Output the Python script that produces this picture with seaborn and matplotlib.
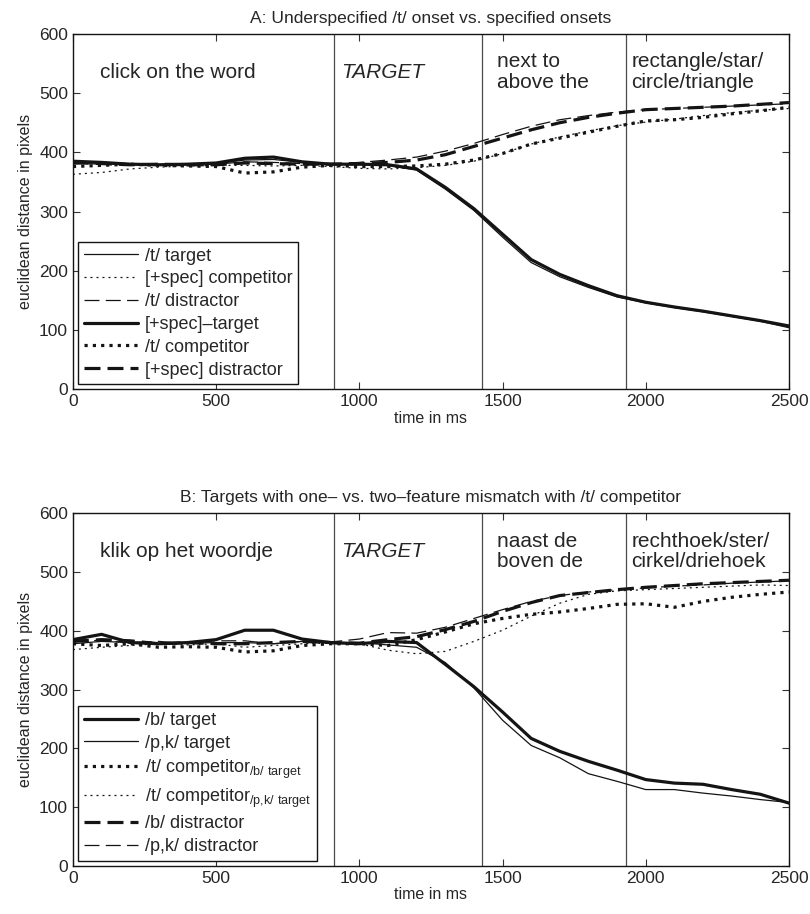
import numpy as np
import pandas as pd
import matplotlib
matplotlib.use("Agg")
import matplotlib.pyplot as plt
import seaborn as sns

# time axis (ms), one reading every 100 ms
time_ms = list(range(0, 2600, 100))

# phase boundaries (ms)
phase_onsets = [910, 1430, 1930]

# --- panel A: underspecified /t/ vs specified onsets ---
a_t_target = [382, 380, 380, 378, 380, 381, 387, 388, 383, 380, 380, 378, 370, 338, 302, 257, 214, 190, 172, 156, 146, 138, 131, 123, 115, 104]
a_spec_comp = [363, 366, 372, 375, 377, 378, 378, 377, 378, 376, 373, 372, 374, 378, 385, 398, 414, 426, 436, 445, 451, 456, 462, 467, 471, 474]
a_t_dist = [380, 382, 380, 379, 379, 380, 384, 383, 381, 380, 383, 387, 392, 402, 415, 430, 444, 455, 462, 468, 472, 474, 476, 478, 480, 482]
a_spec_target = [385, 383, 380, 379, 380, 382, 390, 392, 384, 380, 380, 379, 372, 341, 305, 262, 219, 194, 175, 158, 147, 139, 132, 124, 116, 107]
a_t_comp = [376, 378, 380, 378, 377, 376, 365, 367, 375, 378, 376, 376, 377, 380, 387, 398, 414, 424, 434, 444, 453, 455, 459, 465, 470, 476]
a_spec_dist = [383, 381, 379, 380, 379, 379, 382, 381, 380, 380, 381, 383, 387, 396, 410, 424, 438, 450, 459, 466, 472, 474, 476, 478, 481, 484]

# --- panel B: one- vs two-feature mismatch ---
b_b_target = [385, 394, 380, 378, 380, 385, 401, 401, 386, 380, 378, 382, 380, 343, 305, 262, 217, 195, 178, 163, 147, 141, 139, 130, 122, 107]
b_pk_target = [378, 382, 380, 377, 379, 380, 380, 378, 382, 380, 380, 376, 372, 346, 303, 248, 205, 184, 157, 144, 130, 130, 124, 119, 113, 108]
b_t_comp_b = [378, 375, 378, 372, 373, 372, 364, 366, 375, 378, 378, 375, 385, 398, 412, 421, 428, 432, 438, 445, 446, 440, 450, 457, 462, 466]
b_t_comp_pk = [368, 372, 375, 378, 376, 378, 372, 375, 378, 379, 378, 367, 361, 365, 382, 401, 425, 447, 462, 468, 470, 472, 474, 476, 478, 477]
b_b_dist = [382, 385, 383, 378, 380, 378, 378, 380, 382, 380, 379, 385, 390, 402, 416, 433, 448, 460, 465, 470, 474, 477, 480, 482, 484, 486]
b_pk_dist = [385, 383, 380, 382, 378, 383, 383, 378, 382, 381, 386, 397, 396, 406, 421, 436, 450, 460, 466, 470, 473, 476, 478, 481, 483, 485]

labels_a = ["/t/ target", "[+spec] competitor", "/t/ distractor",
            "[+spec]\u2013target", "/t/ competitor", "[+spec] distractor"]
labels_b = ["/b/ target", "/p,k/ target",
            r"/t/ competitor$_{\mathregular{/b/\ target}}$",
            r"/t/ competitor$_{\mathregular{/p{,}k/\ target}}$",
            "/b/ distractor", "/p,k/ distractor"]

sns.set_theme(style="ticks")
plt.rcParams["font.family"] = ["Liberation Sans", "DejaVu Sans"]
plt.rcParams["mathtext.fontset"] = "custom"
plt.rcParams["mathtext.rm"] = "Liberation Sans"

ink = "#141414"
THIN, THICK = 0.9, 2.3
styles = {
    "thin_solid": dict(lw=THIN, ls="-"),
    "thin_dot": dict(lw=THIN, ls=(0, (1.6, 3.2))),
    "thin_dash": dict(lw=THIN, ls=(0, (12, 5))),
    "thick_solid": dict(lw=THICK, ls="-"),
    "thick_dot": dict(lw=THICK, ls=(0, (1.0, 1.6))),
    "thick_dash": dict(lw=THICK, ls=(0, (5, 2.2))),
}

fig = plt.figure(figsize=(8.1, 9.14), dpi=100)
ax_a = fig.add_axes([0.090, 0.574, 0.884, 0.389])
ax_b = fig.add_axes([0.090, 0.0525, 0.884, 0.386])

panel_a = [(a_t_target, "thin_solid"), (a_spec_comp, "thin_dot"), (a_t_dist, "thin_dash"),
           (a_spec_target, "thick_solid"), (a_t_comp, "thick_dot"), (a_spec_dist, "thick_dash")]
panel_b = [(b_b_target, "thick_solid"), (b_pk_target, "thin_solid"), (b_t_comp_b, "thick_dot"),
           (b_t_comp_pk, "thin_dot"), (b_b_dist, "thick_dash"), (b_pk_dist, "thin_dash")]


def draw_panel(ax, series, labels, title, words):
    for (vals, st), lab in zip(series, labels):
        sns.lineplot(x=time_ms, y=vals, ax=ax, color=ink, label=lab,
                     linewidth=styles[st]["lw"], linestyle=styles[st]["ls"])
    for t in phase_onsets:
        ax.axvline(t, color="#4a4a4a", lw=0.9, zorder=0)
    ax.set_xlim(0, 2500)
    ax.set_ylim(0, 600)
    ax.set_xticks([0, 500, 1000, 1500, 2000, 2500])
    ax.set_yticks([0, 100, 200, 300, 400, 500, 600])
    ax.tick_params(direction="in", top=True, right=True, length=5,
                   labelsize=12.5, color="#333333", width=0.8)
    for s in ax.spines.values():
        s.set_color(ink)
        s.set_linewidth(1.0)
    ax.set_xlabel("time in ms", fontsize=11.5, labelpad=1)
    ax.set_ylabel("euclidean distance in pixels", fontsize=11.5, labelpad=4)
    ax.set_title(title, fontsize=12.5, pad=8)
    # phase words
    xs = [95, 935, 1480, 1950]
    for i, (x, w) in enumerate(zip(xs, words)):
        ax.text(x, 535, w, fontsize=15, va="center", ha="left",
                linespacing=1.12, style="italic" if i == 1 else "normal")
    leg = ax.legend(loc="lower left", fontsize=13, frameon=True, fancybox=False,
                    handlelength=3.0, labelspacing=0.32, borderaxespad=0.3,
                    borderpad=0.3, handletextpad=0.4)
    leg.get_frame().set_edgecolor(ink)
    leg.get_frame().set_linewidth(1.0)
    leg.get_frame().set_alpha(1)


draw_panel(ax_a, panel_a, labels_a, "A: Underspecified /t/ onset vs. specified onsets",
           ["click on the word", "TARGET", "next to\nabove the", "rectangle/star/\ncircle/triangle"])
draw_panel(ax_b, panel_b, labels_b,
           "B: Targets with one\u2013 vs. two\u2013feature mismatch with /t/ competitor",
           ["klik op het woordje", "TARGET", "naast de\nboven de", "rechthoek/ster/\ncirkel/driehoek"])

fig.savefig("out.png", dpi=100)
